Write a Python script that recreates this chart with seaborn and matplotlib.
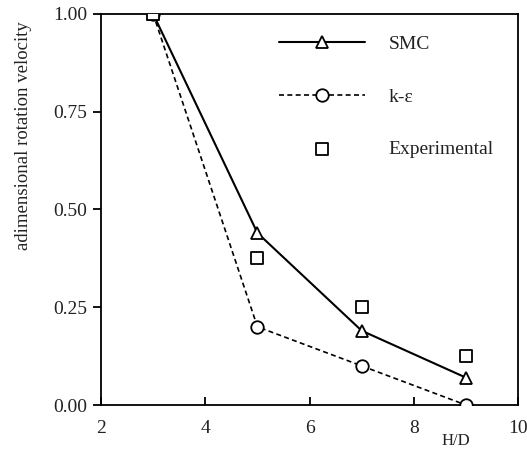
import matplotlib
matplotlib.use("Agg")
import matplotlib.pyplot as plt
import seaborn as sns
import pandas as pd

hd = [3, 5, 7, 9]
smc = [1.0, 0.44, 0.19, 0.07]
k_eps = [1.0, 0.20, 0.10, 0.0]
experimental = [1.0, 0.375, 0.25, 0.125]

sns.set_theme(style="ticks")
plt.rcParams['font.family'] = ['Liberation Serif', 'DejaVu Serif']
txt = '#222222'

fig = plt.figure(figsize=(5.27, 4.5), dpi=100)
ax = fig.add_axes([0.1917, 0.1, 0.7913, 0.869])

sns.lineplot(x=hd, y=smc, ax=ax, color='black', linewidth=1.5, marker='^',
             markersize=9, markerfacecolor='white', markeredgecolor='black',
             markeredgewidth=1.3, label='SMC', zorder=3)
sns.lineplot(x=hd, y=k_eps, ax=ax, color='black', linewidth=1.2, marker='o',
             markersize=9, markerfacecolor='white', markeredgecolor='black',
             markeredgewidth=1.3, label='k-ε', zorder=3)
ax.lines[-1].set_linestyle((0, (3, 2)))
sns.scatterplot(x=hd, y=experimental, ax=ax, marker='s', s=80,
                facecolor='white', edgecolor='black', linewidth=1.3,
                label='Experimental', zorder=4)

ax.set_xlim(2, 10)
ax.set_ylim(0, 1.0)
ax.set_xticks([2, 4, 6, 8, 10])
ax.set_yticks([0.0, 0.25, 0.5, 0.75, 1.0])
ax.set_yticklabels(['0.00', '0.25', '0.50', '0.75', '1.00'])
for s in ax.spines.values():
    s.set_linewidth(1.3)
    s.set_color('black')
ax.tick_params(axis='x', direction='in', length=6, width=1.3, labelsize=14,
               colors='black', labelcolor=txt, pad=11)
ax.tick_params(axis='y', direction='out', length=6, width=1.3, labelsize=14,
               colors='black', labelcolor=txt, pad=4)

ax.set_xlabel('H/D', fontsize=12, color=txt)
ax.xaxis.set_label_coords(0.85, -0.072)
ax.set_ylabel('adimensional rotation velocity', fontsize=13.5, color=txt)
ax.yaxis.set_label_coords(-0.165, 0.69)

leg = ax.legend(loc='upper left', bbox_to_anchor=(0.386, 0.99), frameon=False,
                fontsize=14, handlelength=4.4, handletextpad=1.2, labelspacing=1.8)
for t in leg.get_texts():
    t.set_color(txt)

fig.savefig('out.png', dpi=100)
